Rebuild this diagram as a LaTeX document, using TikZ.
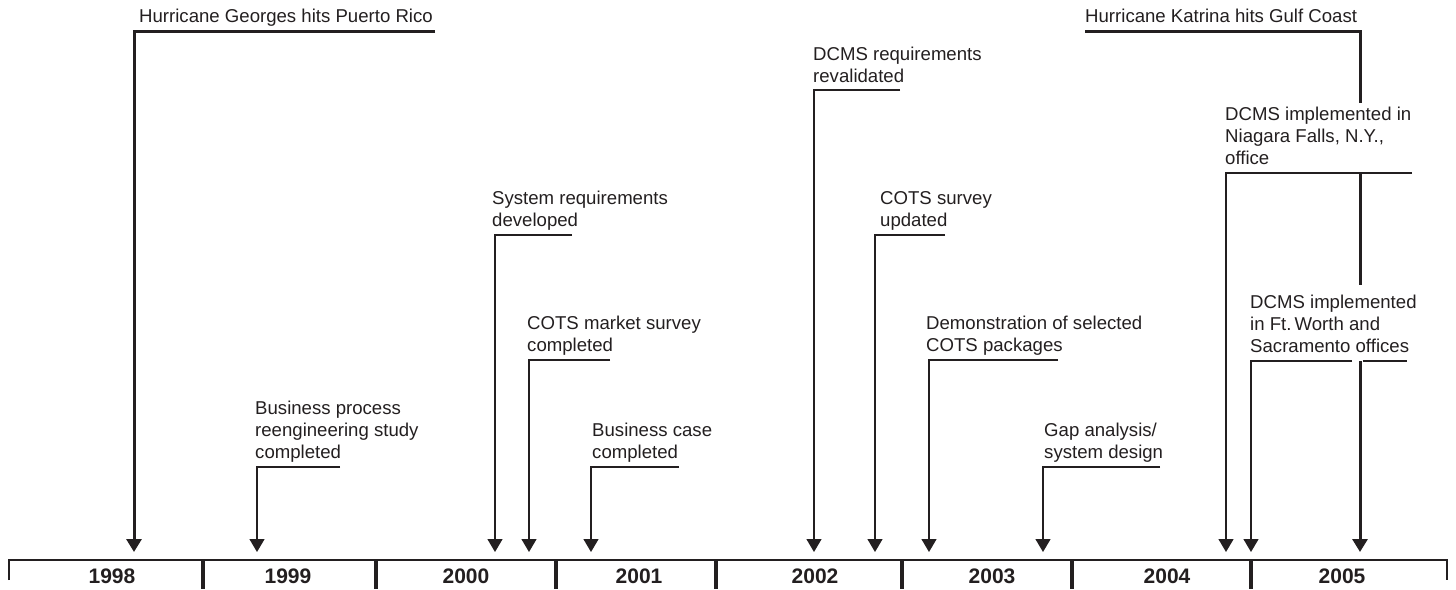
\documentclass[tikz,border=0pt]{standalone}
\usepackage{fontspec}
\setmainfont{Liberation Sans}
\usetikzlibrary{arrows.meta}
\definecolor{ink}{RGB}{35,31,32}
\begin{document}
\begin{tikzpicture}[x=1pt,y=1pt,
  lbl/.style={anchor=south west, inner sep=0pt, text depth=0pt, align=left,
              font=\fontsize{18.6}{22}\selectfont, text=ink},
  yr/.style={anchor=base, inner sep=0pt, font=\fontsize{21}{24}\bfseries\selectfont, text=ink},
  lead/.style={draw=ink, line width=1.3pt},
  leadthick/.style={draw=ink, line width=3pt},
  tip/.style={-{Triangle[length=13pt,width=15pt]}},
  axisline/.style={draw=ink, line width=2pt},
  divider/.style={draw=ink, line width=4.5pt}]
\useasboundingbox (0,0) rectangle (1456,-589);

% ---- time axis ----
\coordinate (axL) at (9,-560);
\coordinate (axR) at (1447,-560);
\draw[axisline] (9,-580) -- (axL) -- (axR) -- (1447,-580);
\foreach \x in {203,376,556,716,902,1072,1251}
  \draw[divider] (\x,-559) -- (\x,-589);

\node[yr] (y1998) at (112,-583) {1998};
\node[yr] (y1999) at (288,-583) {1999};
\node[yr] (y2000) at (466,-583) {2000};
\node[yr] (y2001) at (639,-583) {2001};
\node[yr] (y2002) at (815,-583) {2002};
\node[yr] (y2003) at (992,-583) {2003};
\node[yr] (y2004) at (1167,-583) {2004};
\node[yr] (y2005) at (1342,-583) {2005};

% ---- points on the axis hit by the arrows ----
\coordinate (hGeorges) at (134,-552);
\coordinate (hBpr)     at (257,-552);
\coordinate (hSysreq)  at (495,-552);
\coordinate (hCotsmkt) at (529,-552);
\coordinate (hBcase)   at (591,-552);
\coordinate (hDcmsreq) at (814,-552);
\coordinate (hCotsupd) at (875,-552);
\coordinate (hDemo)    at (929,-552);
\coordinate (hGap)     at (1043,-552);
\coordinate (hNiagara) at (1226,-552);
\coordinate (hFtworth) at (1251,-552);
\coordinate (hKatrina) at (1360,-552);

% ---- Hurricane Georges ----
\node[lbl] (georges) at (139,-23) {Hurricane Georges hits Puerto Rico};
\coordinate (georgesEnd) at (435,-31);
\draw[leadthick, tip] (georgesEnd) -- (134,-31) -- (hGeorges);

% ---- project milestones ----
\node[lbl] (bpr) at (255,-459) {Business process\\reengineering study\\completed};
\draw[lead, tip] (340,-467) -- (257,-467) -- (hBpr);

\node[lbl] (sysreq) at (492,-227) {System requirements\\developed};
\draw[lead, tip] (572,-235) -- (495,-235) -- (hSysreq);

\node[lbl] (cotsmkt) at (527,-352) {COTS market survey\\completed};
\draw[lead, tip] (610,-360) -- (529,-360) -- (hCotsmkt);

\node[lbl] (bcase) at (592,-459) {Business case\\completed};
\draw[lead, tip] (679,-467) -- (591,-467) -- (hBcase);

\node[lbl] (dcmsreq) at (813,-83) {DCMS requirements\\revalidated};
\draw[lead, tip] (900,-90) -- (814,-90) -- (hDcmsreq);

\node[lbl] (cotsupd) at (880,-227) {COTS survey\\updated};
\draw[lead, tip] (945,-235) -- (875,-235) -- (hCotsupd);

\node[lbl] (demo) at (926,-352) {Demonstration of selected\\COTS packages};
\draw[lead, tip] (1058,-360) -- (929,-360) -- (hDemo);

\node[lbl] (gap) at (1044,-459) {Gap analysis/\\system design};
\draw[lead, tip] (1160,-467) -- (1043,-467) -- (hGap);

\node[lbl] (niagara) at (1225,-165) {DCMS implemented in\\Niagara Falls, N.Y.,\\office};
\draw[lead, tip] (1412,-173) -- (1226,-173) -- (hNiagara);

\node[lbl] (ftworth) at (1250,-353) {DCMS implemented\\in Ft.\,Worth and\\Sacramento offices};
\draw[lead, tip] (1352,-361) -- (1251,-361) -- (hFtworth);
\draw[lead] (1363,-361) -- (1407,-361);

% ---- Hurricane Katrina ----
\node[lbl] (katrina) at (1085,-23) {Hurricane Katrina hits Gulf Coast};
\draw[leadthick] (1085,-31) -- (1360,-31) -- (1360,-103);
\draw[leadthick] (1360,-173) -- (1360,-285);
\draw[leadthick, tip] (1360,-361) -- (hKatrina);
\end{tikzpicture}
\end{document}
